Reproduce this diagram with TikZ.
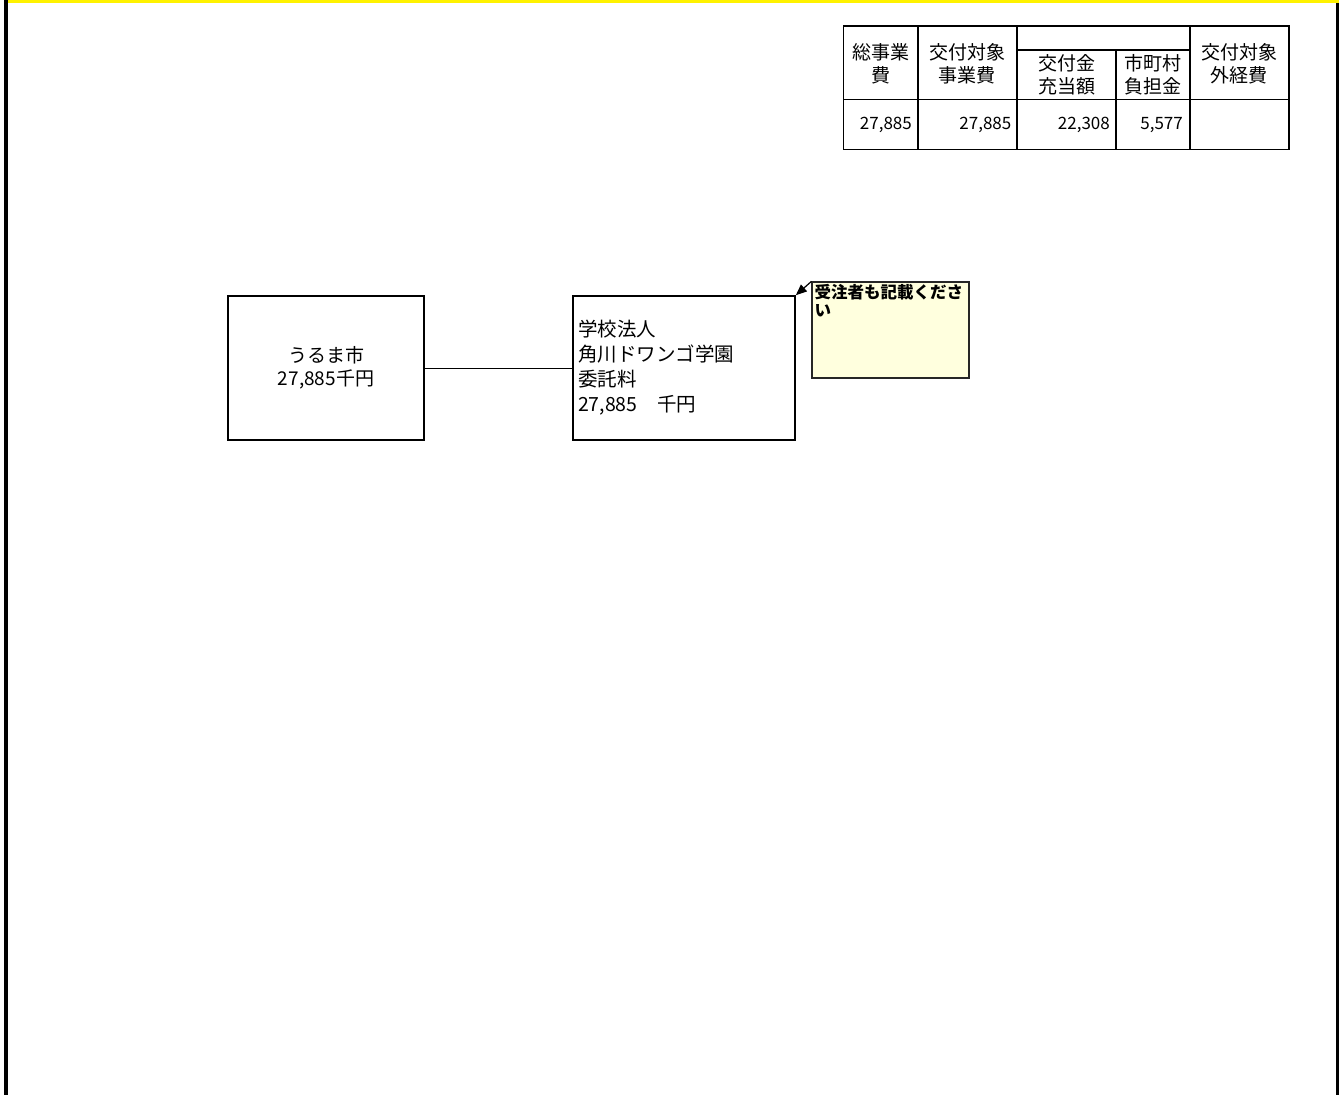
\documentclass[tikz,border=0pt]{standalone}
\usepackage{fontspec}
\setmainfont{Noto Sans CJK JP}
\usetikzlibrary{arrows.meta}

\definecolor{memoYellow}{RGB}{255,255,222}
\tikzstyle{box}=[rectangle,draw=black,line width=1.6pt,minimum height=144pt]
\tikzstyle{head}=[align=center,inner sep=0pt,font=\fontsize{19}{23}\selectfont]
\tikzstyle{num}=[anchor=east,inner sep=0pt,font=\fontsize{17}{20}\selectfont]
\tikzstyle{gridLine}=[line width=1.6pt]
\tikzstyle{memo}=[rectangle,draw=black!85,line width=1.2pt,fill=memoYellow,minimum width=157pt,minimum height=96pt]

\begin{document}
\begin{tikzpicture}[x=1pt, y=-1pt]
	\useasboundingbox (0,0) rectangle (1339,1095);

	% Rahmen
	\fill[yellow] (8,0) rectangle (1339,2.5);
	\fill[black] (4,0) rectangle (8,1095);
	\fill[black] (1336,3) rectangle (1339,1095);

	% Tabelle
	\draw[gridLine] (843.5,26) rectangle (1289,149.5);
	\draw[gridLine] (843.5,99.5) -- (1289,99.5);
	\draw[gridLine] (1017,50) -- (1190,50);
	\draw[gridLine] (918,26) -- (918,149.5);
	\draw[gridLine] (1017,26) -- (1017,149.5);
	\draw[gridLine] (1116,50) -- (1116,149.5);
	\draw[gridLine] (1190,26) -- (1190,149.5);

	\node(hTotal) at (881,63.5) [head] {総事業\\費};
	\node(hTarget) at (967,63.5) [head] {交付対象\\事業費};
	\node(hGrant) at (1067,75) [head] {交付金\\充当額};
	\node(hCity) at (1153,75) [head] {市町村\\負担金};
	\node(hOther) at (1239,63.5) [head] {交付対象\\外経費};

	\node(vTotal) at (912,125) [num] {27,885};
	\node(vTarget) at (1011.5,125) [num] {27,885};
	\node(vGrant) at (1110,125) [num] {22,308};
	\node(vCity) at (1183,125) [num] {5,577};

	% Kasten
	\node(city) at (326,368) [box, minimum width=196pt, align=center, font=\fontsize{19}{23}\selectfont] {うるま市\\27,885千円};
	\node(school) at (684,368) [box, minimum width=222pt, text width=212pt, align=left, font=\fontsize{19.5}{25}\selectfont] {学校法人\\角川ドワンゴ学園\\委託料\\27,885　千円};

	\draw[line width=0.8pt] (city) -- (school);

	% Hinweis
	\node(memo) at (890.5,330) [memo] {};
	\node(memoText) at (814.5,284) [anchor=north west, inner sep=0pt, align=left, font=\bfseries\fontsize{16.5}{18}\selectfont] {受注者も記載くださ\\い};
	\draw[-{Triangle[length=11pt,width=9pt]}, line width=1.2pt] (memo.north west) -- (school.north east);

\end{tikzpicture}
\end{document}
